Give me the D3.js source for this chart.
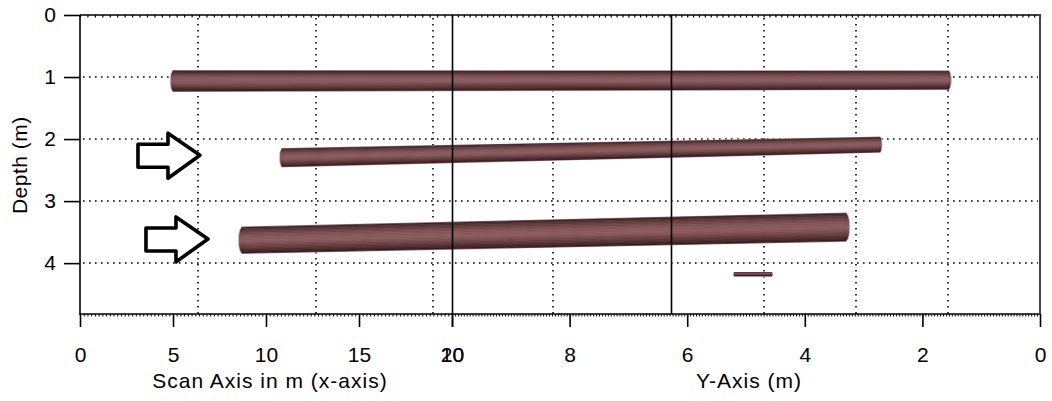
<!DOCTYPE html>
<html><head><meta charset="utf-8">
<script src="https://cdn.jsdelivr.net/npm/d3@7"></script>
<style>
html,body{margin:0;padding:0;background:#fff;}
svg{display:block;}
text{font-family:"Liberation Sans",Arial,sans-serif;}
</style></head><body>
<svg id="chart" width="1052" height="401"></svg>
<script>
// Depth axis (m)
const depthTicks = [0, 1, 2, 3, 4];
const depthMax = 4.82;
const depthGrid = [1, 2, 3, 4];
// Scan axis in m (x-axis): left part of the horizontal axis
const scanTicks = [0, 5, 10, 15, 20];
const scanGrid = [6.34, 12.69, 18.98];
// Y-Axis (m): right part of the horizontal axis, decreasing to the right
const yTicks = [10, 8, 6, 4, 2, 0];
const yGrid = [8.28, 4.69, 3.13, 1.56];
const ySolid = [10, 6.28];

// Detected pipes, left end and right end
const pipeStartAxis = ["scan", "scan", "scan", "y"];
const pipeStartPos = [5.0, 10.86, 8.71, 5.20];
const pipeStartDepth = [1.065, 2.30, 3.63, 4.18];
const pipeStartDia = [0.33, 0.29, 0.42, 0.05];
const pipeEndAxis = ["y", "y", "y", "y"];
const pipeEndPos = [1.55, 2.72, 3.30, 4.56];
const pipeEndDepth = [1.05, 2.09, 3.42, 4.18];
const pipeEndDia = [0.29, 0.24, 0.45, 0.05];

// Marker arrows pointing at the two deeper pipes (tip position)
const arrowScan = [6.45, 6.88];
const arrowDepth = [2.26, 3.61];

const svg = d3.select("#chart");
const plotL = 80, plotM = 452, plotR = 1040, plotT = 15, plotB = 314;

const xScan = d3.scaleLinear().domain([0, 20]).range([plotL, plotM]);
const xY = d3.scaleLinear().domain([10, 0]).range([plotM, plotR]);
const yD = d3.scaleLinear().domain([0, depthMax]).range([plotT, plotB]);
const hpos = (axis, v) => axis === "scan" ? xScan(v) : xY(v);

const fontSize = 21;

// ---- dotted grid ----
const grid = svg.append("g").attr("stroke", "#000").attr("stroke-width", 1.6)
  .attr("stroke-dasharray", "1.6,4.4").attr("fill", "none");
grid.selectAll("line.h").data(depthGrid).join("line").attr("class", "h")
  .attr("x1", plotL + 3).attr("x2", plotR - 2)
  .attr("y1", d => Math.round(yD(d))).attr("y2", d => Math.round(yD(d)));
const vGrid = scanGrid.map(v => xScan(v)).concat(yGrid.map(v => xY(v)));
grid.selectAll("line.v").data(vGrid).join("line").attr("class", "v")
  .attr("x1", d => Math.round(d)).attr("x2", d => Math.round(d))
  .attr("y1", plotT + 3).attr("y2", plotB);

// ---- pipes, shaded as cylinders ----
const shadeStops = [0, 0.12, 0.35, 0.55, 0.8, 1];
const shade = d3.scaleLinear()
  .domain(shadeStops)
  .range(["#3a1f22", "#5b3538", "#835659", "#8b5d60", "#603a3d", "#331a1d"]);
const defs = svg.append("defs");
const grad = defs.append("linearGradient").attr("id", "pipeShade")
  .attr("x1", 0).attr("y1", 0).attr("x2", 0).attr("y2", 1);
shadeStops.forEach(t =>
  grad.append("stop").attr("offset", t).attr("stop-color", shade(t)));

const pipes = svg.append("g");
const bands = 18;
pipeStartPos.forEach((_, i) => {
  const x0 = hpos(pipeStartAxis[i], pipeStartPos[i]);
  const x1 = hpos(pipeEndAxis[i], pipeEndPos[i]);
  const c0 = yD(pipeStartDepth[i]), c1 = yD(pipeEndDepth[i]);
  const d0 = yD(pipeStartDia[i]) - yD(0), d1 = yD(pipeEndDia[i]) - yD(0);
  const g = pipes.append("g");
  const edge = t => [[x0, c0 - d0 / 2 + t * d0], [x1, c1 - d1 / 2 + t * d1]];
  // light halo around the tube
  const outline = [...edge(0), ...edge(1).reverse()];
  g.append("polygon").attr("points", outline.map(p => p.join(",")).join(" "))
    .attr("fill", "#cdb8b9").attr("stroke", "#d9c9c9").attr("stroke-width", 1.6);
  // rounded end caps
  [[x0, c0, d0], [x1, c1, d1]].forEach(([cx, cy, dd]) => {
    g.append("ellipse").attr("cx", cx).attr("cy", cy)
      .attr("rx", Math.max(1, dd * 0.14)).attr("ry", dd / 2)
      .attr("fill", "url(#pipeShade)").attr("stroke", "#d9c9c9").attr("stroke-width", 0.8);
  });
  for (let k = 0; k < bands; k++) {
    const a = edge(k / bands), b = edge((k + 1) / bands);
    const pts = [a[0], a[1], b[1], b[0]];
    const col = shade((k + 0.5) / bands);
    g.append("polygon").attr("points", pts.map(p => p.join(",")).join(" "))
      .attr("fill", col).attr("stroke", col).attr("stroke-width", 0.6);
  }
});

// ---- solid reference lines ----
svg.append("g").selectAll("line").data(ySolid).join("line")
  .attr("x1", d => Math.round(xY(d)) + 0.5).attr("x2", d => Math.round(xY(d)) + 0.5)
  .attr("y1", plotT).attr("y2", plotB)
  .attr("stroke", "#000").attr("stroke-width", 1.6);

// ---- axes ----
function styleAxis(g) {
  g.select(".domain").remove();
  g.selectAll("line").attr("stroke", "#000").attr("stroke-width", 1.6);
  g.selectAll("text").attr("fill", "#000").attr("font-size", fontSize)
    .attr("font-family", "Liberation Sans, Arial, sans-serif");
}

// left (depth)
svg.append("g").attr("transform", `translate(${plotL},0)`)
  .call(d3.axisLeft(yD).tickValues(depthTicks).tickSize(16).tickPadding(8)
    .tickFormat(d3.format("d")))
  .call(styleAxis);

// bottom: scan axis and Y-axis, each with a dense row of minor ticks
const minorScan = d3.range(0, 20.001, 0.2);
const minorY = d3.range(0, 10.001, 0.05);
[[xScan, scanTicks, minorScan], [xY, yTicks, minorY]].forEach(([sc, ticks, minor]) => {
  svg.append("g").attr("transform", `translate(0,${plotB})`)
    .call(d3.axisBottom(sc).tickValues(minor).tickSize(2.5).tickFormat(""))
    .call(g => { g.select(".domain").remove();
      g.selectAll("line").attr("stroke", "#000").attr("stroke-width", 1); });
  svg.append("g").attr("transform", `translate(0,${plotB})`)
    .call(d3.axisBottom(sc).tickValues(ticks).tickSize(13).tickPadding(20)
      .tickFormat(d3.format("d")))
    .call(styleAxis);
  // top border ticks pointing inward
  svg.append("g").attr("transform", `translate(0,${plotT})`)
    .call(d3.axisBottom(sc).tickValues(minor.filter((_, j) => j % 2 === 0)).tickSize(2.5).tickFormat(""))
    .call(g => { g.select(".domain").remove();
      g.selectAll("line").attr("stroke", "#000").attr("stroke-width", 1.2); });
});

// frame
const frame = svg.append("g").attr("fill", "none");
frame.append("line").attr("x1", plotL).attr("x2", plotL).attr("y1", plotT).attr("y2", plotB + 1)
  .attr("stroke", "#000").attr("stroke-width", 1.6);
frame.append("line").attr("x1", plotL).attr("x2", plotR).attr("y1", plotB).attr("y2", plotB)
  .attr("stroke", "#000").attr("stroke-width", 1.6);
frame.append("line").attr("x1", plotL).attr("x2", plotR).attr("y1", plotT).attr("y2", plotT)
  .attr("stroke", "#000").attr("stroke-width", 1.6);
frame.append("line").attr("x1", plotR).attr("x2", plotR).attr("y1", plotT - 1).attr("y2", plotB)
  .attr("stroke", "#444").attr("stroke-width", 2);

// axis titles
svg.append("text").attr("x", 270).attr("y", 388).attr("text-anchor", "middle")
  .attr("font-size", fontSize).attr("letter-spacing", 1).text("Scan Axis in m (x-axis)");
svg.append("text").attr("x", 749).attr("y", 388).attr("text-anchor", "middle")
  .attr("font-size", fontSize).attr("letter-spacing", 1).text("Y-Axis (m)");
svg.append("text").attr("transform", `translate(27,${yD(2.42)}) rotate(-90)`)
  .attr("text-anchor", "middle").attr("font-size", fontSize).attr("letter-spacing", 0.5)
  .text("Depth (m)");

// ---- arrows ----
const arrowShape = [[0, 0], [-32, -22], [-32, -11], [-62, -11], [-62, 12], [-32, 12], [-32, 23]];
svg.append("g").selectAll("polygon").data(arrowScan).join("polygon")
  .attr("points", (d, i) => {
    const tx = xScan(d), ty = yD(arrowDepth[i]);
    return arrowShape.map(([dx, dy]) => `${tx + dx},${ty + dy}`).join(" ");
  })
  .attr("fill", "#fff").attr("stroke", "#000").attr("stroke-width", 3.6)
  .attr("stroke-linejoin", "round");
</script>
</body></html>
